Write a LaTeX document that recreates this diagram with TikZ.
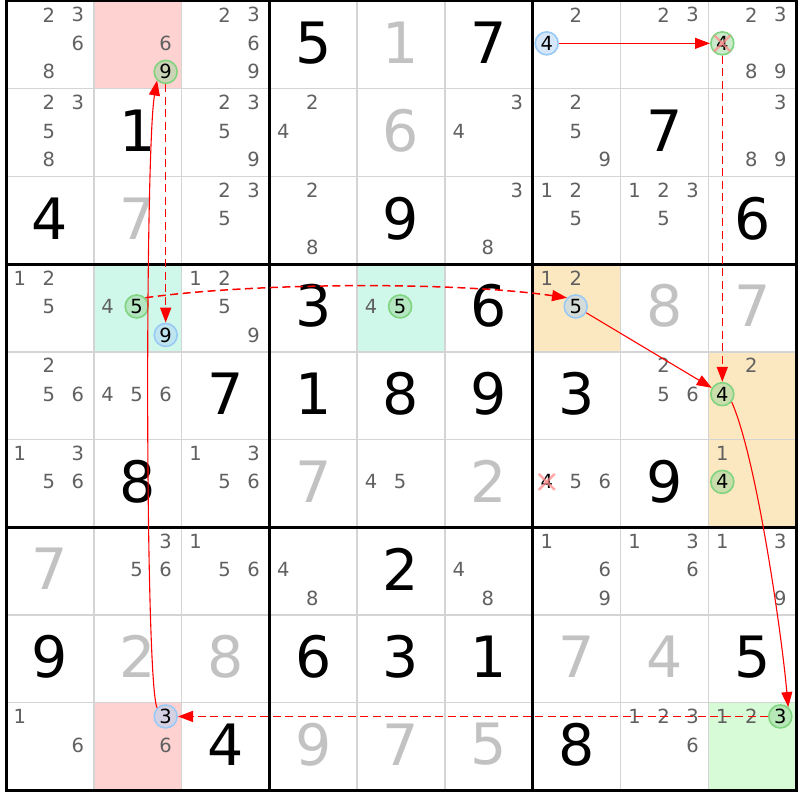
\documentclass[tikz,border=0pt]{standalone}
\usepackage{fontspec}
\setmainfont{DejaVu Sans}
\usetikzlibrary{arrows.meta}
\definecolor{cgray}{HTML}{606060}
\definecolor{sgray}{HTML}{C2C2C2}
\definecolor{gridgray}{HTML}{D4D4D4}
\definecolor{hpink}{HTML}{FFD2D2}
\definecolor{hmint}{HTML}{D0F8EA}
\definecolor{horange}{HTML}{FCE8C0}
\definecolor{hgreen}{HTML}{D6FBD6}
\definecolor{cbluebd}{HTML}{99C9F5}
\definecolor{cbluefill}{HTML}{ADD1F5}
\definecolor{cgreenbd}{HTML}{80D480}
\definecolor{cgreenfill}{HTML}{99D699}
\definecolor{linkred}{HTML}{FF0000}
\definecolor{xpink}{HTML}{FF8C8C}

\tikzset{
  cand/.style={circle, minimum size=23pt, inner sep=0pt, text=cgray,
    font=\fontsize{19.5}{19.5}\selectfont},
  bigdig/.style={inner sep=0pt, font=\fontsize{57}{57}\selectfont},
  givendig/.style={bigdig, text=black},
  solveddig/.style={bigdig, text=sgray},
  bluec/.style={draw=cbluebd, line width=1.6pt, fill=cbluefill, fill opacity=0.5,
    draw opacity=1, text opacity=1, text=black},
  greenc/.style={draw=cgreenbd, line width=1.6pt, fill=cgreenfill, fill opacity=0.5,
    draw opacity=1, text opacity=1, text=black},
  elimc/.style={text=black},
  link/.style={draw=linkred, line width=1.1pt, -{Triangle[length=15pt,width=11pt]}},
  weak/.style={link, line width=1.5pt, dash pattern=on 8pt off 4.5pt},
  xmark/.style={draw=xpink, line width=2.4pt, opacity=0.75},
  thinline/.style={draw=gridgray, line width=1.5pt},
  thickline/.style={draw=black, line width=3pt},
}

\newcommand\cands[3]{%
  \foreach \dg in {#3}{%
    \pgfmathsetmacro\px{6+87.8*(#2-0.5)-30+29*mod(\dg-1,3)}%
    \pgfmathsetmacro\py{1+87.7*(#1-0.5)-30+28.5*int((\dg-1)/3)}%
    \node[cand] (k#1#2\dg) at (\px,\py) {\dg};}}
\newcommand\hcand[4]{%
  \pgfmathsetmacro\px{6+87.8*(#2-0.5)-30+29*mod(#3-1,3)}%
  \pgfmathsetmacro\py{1+87.7*(#1-0.5)-30+28.5*int((#3-1)/3)}%
  \node[cand,#4] (k#1#2#3) at (\px,\py) {#3};}
\newcommand\gv[3]{%
  \pgfmathsetmacro\px{6+87.8*(#2-0.5)}%
  \pgfmathsetmacro\py{1+87.7*(#1-0.5)-2}%
  \node[givendig] (g#1#2) at (\px,\py) {#3};}
\newcommand\sv[3]{%
  \pgfmathsetmacro\px{6+87.8*(#2-0.5)}%
  \pgfmathsetmacro\py{1+87.7*(#1-0.5)-2}%
  \node[solveddig] (g#1#2) at (\px,\py) {#3};}
\newcommand\cellfill[3]{%
  \pgfmathsetmacro\xa{6+87.8*(#2-1)}%
  \pgfmathsetmacro\ya{1+87.7*(#1-1)}%
  \fill[#3] (\xa,\ya) rectangle ++(87.8,87.7);}

\begin{document}
\begin{tikzpicture}[x=1pt,y=-1pt]
\useasboundingbox (0,0) rectangle (800,800);
\fill[white] (0,0) rectangle (800,800);

% highlighted cells
\cellfill{1}{2}{hpink}
\cellfill{9}{2}{hpink}
\cellfill{4}{2}{hmint}
\cellfill{4}{5}{hmint}
\cellfill{4}{7}{horange}
\cellfill{5}{9}{horange}
\cellfill{6}{9}{horange}
\cellfill{9}{9}{hgreen}

% grid
\foreach \i in {1,2,4,5,7,8}{
  \draw[thinline] ({6+87.8*\i},1) -- ({6+87.8*\i},790.3);
  \draw[thinline] (6,{1+87.7*\i}) -- (796.2,{1+87.7*\i});
}
\foreach \i in {0,3,6,9}{
  \draw[thickline] ({6+87.8*\i},-0.5) -- ({6+87.8*\i},791.8);
  \draw[thickline] (4.5,{1+87.7*\i}) -- (797.7,{1+87.7*\i});
}

% row 1
\cands{1}{1}{2,3,6,8}
\cands{1}{2}{6}\hcand{1}{2}{9}{greenc}
\cands{1}{3}{2,3,6,9}
\gv{1}{4}{5}\sv{1}{5}{1}\gv{1}{6}{7}
\cands{1}{7}{2}\hcand{1}{7}{4}{bluec}
\cands{1}{8}{2,3}
\cands{1}{9}{2,3,8,9}\hcand{1}{9}{4}{greenc}
% row 2
\cands{2}{1}{2,3,5,8}
\gv{2}{2}{1}
\cands{2}{3}{2,3,5,9}
\cands{2}{4}{2,4}
\sv{2}{5}{6}
\cands{2}{6}{3,4}
\cands{2}{7}{2,5,9}
\gv{2}{8}{7}
\cands{2}{9}{3,8,9}
% row 3
\gv{3}{1}{4}\sv{3}{2}{7}
\cands{3}{3}{2,3,5}
\cands{3}{4}{2,8}
\gv{3}{5}{9}
\cands{3}{6}{3,8}
\cands{3}{7}{1,2,5}
\cands{3}{8}{1,2,3,5}
\gv{3}{9}{6}
% row 4
\cands{4}{1}{1,2,5}
\cands{4}{2}{4}\hcand{4}{2}{5}{greenc}\hcand{4}{2}{9}{bluec}
\cands{4}{3}{1,2,5,9}
\gv{4}{4}{3}
\cands{4}{5}{4}\hcand{4}{5}{5}{greenc}
\gv{4}{6}{6}
\cands{4}{7}{1,2}\hcand{4}{7}{5}{bluec}
\sv{4}{8}{8}\sv{4}{9}{7}
% row 5
\cands{5}{1}{2,5,6}
\cands{5}{2}{4,5,6}
\gv{5}{3}{7}\gv{5}{4}{1}\gv{5}{5}{8}\gv{5}{6}{9}\gv{5}{7}{3}
\cands{5}{8}{2,5,6}
\cands{5}{9}{2}\hcand{5}{9}{4}{greenc}
% row 6
\cands{6}{1}{1,3,5,6}
\gv{6}{2}{8}
\cands{6}{3}{1,3,5,6}
\sv{6}{4}{7}
\cands{6}{5}{4,5}
\sv{6}{6}{2}
\hcand{6}{7}{4}{elimc}\cands{6}{7}{5,6}
\gv{6}{8}{9}
\cands{6}{9}{1}\hcand{6}{9}{4}{greenc}
% row 7
\sv{7}{1}{7}
\cands{7}{2}{3,5,6}
\cands{7}{3}{1,5,6}
\cands{7}{4}{4,8}
\gv{7}{5}{2}
\cands{7}{6}{4,8}
\cands{7}{7}{1,6,9}
\cands{7}{8}{1,3,6}
\cands{7}{9}{1,3,9}
% row 8
\gv{8}{1}{9}\sv{8}{2}{2}\sv{8}{3}{8}\gv{8}{4}{6}\gv{8}{5}{3}\gv{8}{6}{1}
\sv{8}{7}{7}\sv{8}{8}{4}\gv{8}{9}{5}
% row 9
\cands{9}{1}{1,6}
\hcand{9}{2}{3}{bluec}\cands{9}{2}{6}
\gv{9}{3}{4}\sv{9}{4}{9}\sv{9}{5}{7}\sv{9}{6}{5}\gv{9}{7}{8}
\cands{9}{8}{1,2,3,6}
\cands{9}{9}{1,2}\hcand{9}{9}{3}{greenc}

% elimination marks
\foreach \nm in {k194,k674}{
  \draw[xmark] ([shift={(-8,-8)}]\nm.center) -- ([shift={(8,8)}]\nm.center);
  \draw[xmark] ([shift={(-8,8)}]\nm.center) -- ([shift={(8,-8)}]\nm.center);
}

% chain
\draw[link] (k174) -- (k194);
\draw[weak] (k194) -- (k594);
\draw[link] (k475) -- (k594);
\draw[link] (k594.-40) .. controls (756,457) and (781,628) .. (k993.50);
\draw[weak] (k993) -- (k923);
\draw[link] (k923.135) .. controls (145,680) and (145,150) .. (k129.225);
\draw[weak] (k129) -- (k429);
\draw[weak] (k425.45) .. controls (250,283) and (450,281) .. (k475.135);
\end{tikzpicture}
\end{document}
